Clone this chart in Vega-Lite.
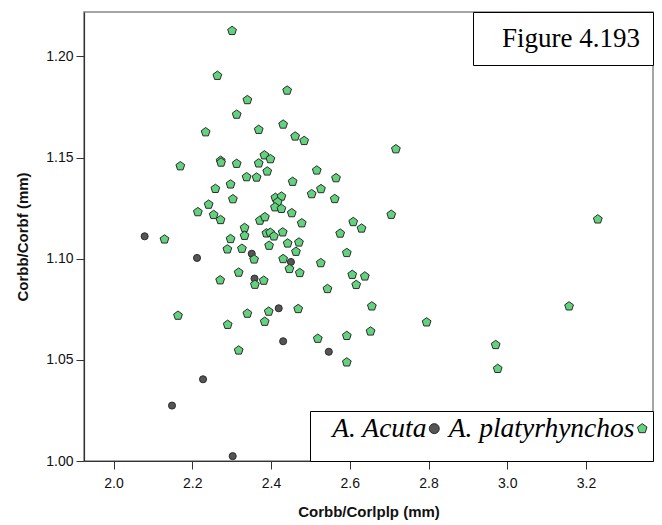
{
  "$schema": "https://vega.github.io/schema/vega-lite/v6.json",
  "width": 569,
  "height": 449,
  "autosize": {"type": "none"},
  "padding": {"left": 84, "top": 12, "right": 9, "bottom": 64},
  "background": "white",
  "config": {
    "view": {"stroke": "#888888", "strokeWidth": 1.5},
    "axis": {
      "grid": false,
      "domainColor": "#333333",
      "domainWidth": 1.2,
      "tickColor": "#333333",
      "tickSize": 8,
      "labelFont": "Liberation Sans",
      "labelFontSize": 14,
      "labelColor": "#111111",
      "titleFont": "Liberation Sans",
      "titleFontSize": 15,
      "titleFontWeight": "bold",
      "titleColor": "#111111"
    }
  },
  "resolve": {"scale": {"size": "independent"}, "legend": {"size": "independent"}},
  "datasets": {
    "points": [
      {"species": "A. Acuta", "x": 2.079, "y": 1.1111},
      {"species": "A. Acuta", "x": 2.212, "y": 1.1004},
      {"species": "A. Acuta", "x": 2.351, "y": 1.1025},
      {"species": "A. Acuta", "x": 2.4505, "y": 1.0984},
      {"species": "A. Acuta", "x": 2.358, "y": 1.0902},
      {"species": "A. Acuta", "x": 2.4195, "y": 1.0755},
      {"species": "A. Acuta", "x": 2.4307, "y": 1.0592},
      {"species": "A. Acuta", "x": 2.5467, "y": 1.054},
      {"species": "A. Acuta", "x": 2.2273, "y": 1.0404},
      {"species": "A. Acuta", "x": 2.1485, "y": 1.0274},
      {"species": "A. Acuta", "x": 2.3026, "y": 1.0024},
      {"species": "A. platyrhynchos", "x": 2.301, "y": 1.2127},
      {"species": "A. platyrhynchos", "x": 2.2637, "y": 1.1905},
      {"species": "A. platyrhynchos", "x": 2.4409, "y": 1.1832},
      {"species": "A. platyrhynchos", "x": 2.3399, "y": 1.1785},
      {"species": "A. platyrhynchos", "x": 2.3127, "y": 1.1713},
      {"species": "A. platyrhynchos", "x": 2.2339, "y": 1.1626},
      {"species": "A. platyrhynchos", "x": 2.3687, "y": 1.1638},
      {"species": "A. platyrhynchos", "x": 2.4307, "y": 1.1664},
      {"species": "A. platyrhynchos", "x": 2.4612, "y": 1.1605},
      {"species": "A. platyrhynchos", "x": 2.4841, "y": 1.1583},
      {"species": "A. platyrhynchos", "x": 2.1696, "y": 1.1458},
      {"species": "A. platyrhynchos", "x": 2.2721, "y": 1.1485},
      {"species": "A. platyrhynchos", "x": 2.2731, "y": 1.1476},
      {"species": "A. platyrhynchos", "x": 2.3127, "y": 1.147},
      {"species": "A. platyrhynchos", "x": 2.3687, "y": 1.1472},
      {"species": "A. platyrhynchos", "x": 2.3832, "y": 1.1512},
      {"species": "A. platyrhynchos", "x": 2.3984, "y": 1.1493},
      {"species": "A. platyrhynchos", "x": 2.3903, "y": 1.1432},
      {"species": "A. platyrhynchos", "x": 2.3379, "y": 1.1404},
      {"species": "A. platyrhynchos", "x": 2.3633, "y": 1.1402},
      {"species": "A. platyrhynchos", "x": 2.5161, "y": 1.1437},
      {"species": "A. platyrhynchos", "x": 2.565, "y": 1.1399},
      {"species": "A. platyrhynchos", "x": 2.4549, "y": 1.1381},
      {"species": "A. platyrhynchos", "x": 2.2972, "y": 1.1368},
      {"species": "A. platyrhynchos", "x": 2.2586, "y": 1.1346},
      {"species": "A. platyrhynchos", "x": 2.3031, "y": 1.1295},
      {"species": "A. platyrhynchos", "x": 2.5032, "y": 1.132},
      {"species": "A. platyrhynchos", "x": 2.5268, "y": 1.1345},
      {"species": "A. platyrhynchos", "x": 2.5617, "y": 1.1296},
      {"species": "A. platyrhynchos", "x": 2.4111, "y": 1.1302},
      {"species": "A. platyrhynchos", "x": 2.4264, "y": 1.1308},
      {"species": "A. platyrhynchos", "x": 2.4167, "y": 1.128},
      {"species": "A. platyrhynchos", "x": 2.4099, "y": 1.1255},
      {"species": "A. platyrhynchos", "x": 2.4264, "y": 1.1247},
      {"species": "A. platyrhynchos", "x": 2.4526, "y": 1.1226},
      {"species": "A. platyrhynchos", "x": 2.2415, "y": 1.1268},
      {"species": "A. platyrhynchos", "x": 2.2141, "y": 1.1231},
      {"species": "A. platyrhynchos", "x": 2.2543, "y": 1.1217},
      {"species": "A. platyrhynchos", "x": 2.2718, "y": 1.1192},
      {"species": "A. platyrhynchos", "x": 2.3717, "y": 1.1189},
      {"species": "A. platyrhynchos", "x": 2.3844, "y": 1.1206},
      {"species": "A. platyrhynchos", "x": 2.478, "y": 1.1176},
      {"species": "A. platyrhynchos", "x": 2.6087, "y": 1.1182},
      {"species": "A. platyrhynchos", "x": 2.6298, "y": 1.115},
      {"species": "A. platyrhynchos", "x": 2.3328, "y": 1.1153},
      {"species": "A. platyrhynchos", "x": 2.4297, "y": 1.1131},
      {"species": "A. platyrhynchos", "x": 2.5756, "y": 1.1125},
      {"species": "A. platyrhynchos", "x": 2.3883, "y": 1.1126},
      {"species": "A. platyrhynchos", "x": 2.3979, "y": 1.1129},
      {"species": "A. platyrhynchos", "x": 2.4073, "y": 1.1111},
      {"species": "A. platyrhynchos", "x": 2.3328, "y": 1.1114},
      {"species": "A. platyrhynchos", "x": 2.2972, "y": 1.1098},
      {"species": "A. platyrhynchos", "x": 2.1294, "y": 1.1096},
      {"species": "A. platyrhynchos", "x": 2.2891, "y": 1.1047},
      {"species": "A. platyrhynchos", "x": 2.326, "y": 1.105},
      {"species": "A. platyrhynchos", "x": 2.4422, "y": 1.1076},
      {"species": "A. platyrhynchos", "x": 2.4709, "y": 1.1081},
      {"species": "A. platyrhynchos", "x": 2.3951, "y": 1.1065},
      {"species": "A. platyrhynchos", "x": 2.4633, "y": 1.1035},
      {"species": "A. platyrhynchos", "x": 2.357, "y": 1.0997},
      {"species": "A. platyrhynchos", "x": 2.4307, "y": 1.0999},
      {"species": "A. platyrhynchos", "x": 2.4467, "y": 1.095},
      {"species": "A. platyrhynchos", "x": 2.4729, "y": 1.093},
      {"species": "A. platyrhynchos", "x": 2.5263, "y": 1.0979},
      {"species": "A. platyrhynchos", "x": 2.5924, "y": 1.1029},
      {"species": "A. platyrhynchos", "x": 2.6062, "y": 1.0921},
      {"species": "A. platyrhynchos", "x": 2.6382, "y": 1.0913},
      {"species": "A. platyrhynchos", "x": 2.6163, "y": 1.0871},
      {"species": "A. platyrhynchos", "x": 2.5433, "y": 1.0851},
      {"species": "A. platyrhynchos", "x": 2.3178, "y": 1.0932},
      {"species": "A. platyrhynchos", "x": 2.2708, "y": 1.0894},
      {"species": "A. platyrhynchos", "x": 2.359, "y": 1.0872},
      {"species": "A. platyrhynchos", "x": 2.3814, "y": 1.0892},
      {"species": "A. platyrhynchos", "x": 2.1637, "y": 1.0719},
      {"species": "A. platyrhynchos", "x": 2.3399, "y": 1.0729},
      {"species": "A. platyrhynchos", "x": 2.3941, "y": 1.0739},
      {"species": "A. platyrhynchos", "x": 2.4689, "y": 1.0752},
      {"species": "A. platyrhynchos", "x": 2.2899, "y": 1.0674},
      {"species": "A. platyrhynchos", "x": 2.3839, "y": 1.0689},
      {"species": "A. platyrhynchos", "x": 2.656, "y": 1.0765},
      {"species": "A. platyrhynchos", "x": 2.6527, "y": 1.0641},
      {"species": "A. platyrhynchos", "x": 2.5187, "y": 1.0605},
      {"species": "A. platyrhynchos", "x": 2.5924, "y": 1.0619},
      {"species": "A. platyrhynchos", "x": 2.5924, "y": 1.0488},
      {"species": "A. platyrhynchos", "x": 2.3178, "y": 1.0547},
      {"species": "A. platyrhynchos", "x": 2.717, "y": 1.1542},
      {"species": "A. platyrhynchos", "x": 2.7053, "y": 1.1218},
      {"species": "A. platyrhynchos", "x": 3.2298, "y": 1.1195},
      {"species": "A. platyrhynchos", "x": 2.7951, "y": 1.0686},
      {"species": "A. platyrhynchos", "x": 2.9705, "y": 1.0574},
      {"species": "A. platyrhynchos", "x": 2.9756, "y": 1.0456},
      {"species": "A. platyrhynchos", "x": 3.1569, "y": 1.0765}
    ],
    "figure": [{"fig": "Figure 4.193"}]
  },
  "layer": [
    {
      "data": {"name": "points"},
      "mark": {"type": "point", "filled": true, "stroke": "#2b2b2b", "strokeWidth": 1, "opacity": 1},
      "encoding": {
        "x": {
          "field": "x", "type": "quantitative",
          "scale": {"domain": [1.925, 3.37], "nice": false, "zero": false},
          "axis": {"title": "Corbb/Corlplp (mm)", "values": [2.0, 2.2, 2.4, 2.6, 2.8, 3.0, 3.2], "format": ".1f", "labelPadding": 7, "titlePadding": 14}
        },
        "y": {
          "field": "y", "type": "quantitative",
          "scale": {"domain": [1.0, 1.222], "nice": false, "zero": false},
          "axis": {"title": "Corbb/Corbf (mm)", "values": [1.0, 1.05, 1.1, 1.15, 1.2], "format": ".2f", "labelPadding": 3, "titlePadding": 15}
        },
        "color": {
          "field": "species", "type": "nominal",
          "scale": {"domain": ["A. Acuta", "A. platyrhynchos"], "range": ["#555555", "#62d27e"]},
          "legend": {
            "title": ["\u00a0", "\u00a0"],
            "titleOrient": "left",
            "titleFont": "Liberation Serif",
            "titleFontSize": 23,
            "titleLineHeight": 34,
            "titlePadding": 107,
            "orient": "bottom-right",
            "offset": 0,
            "direction": "horizontal",
            "strokeColor": "#000000",
            "fillColor": "#ffffff",
            "padding": 3.5,
            "labelFont": "Liberation Serif",
            "labelFontStyle": "italic",
            "labelFontSize": 27.5,
            "labelColor": "#000000",
            "labelAlign": "right",
            "labelOffset": -21.5,
            "labelLimit": 400,
            "columnPadding": 7,
            "symbolStrokeColor": "#2b2b2b",
            "symbolStrokeWidth": 1
          }
        },
        "shape": {
          "field": "species", "type": "nominal",
          "scale": {"domain": ["A. Acuta", "A. platyrhynchos"], "range": ["circle", "M0,-1L0.951,-0.309L0.588,0.809L-0.588,0.809L-0.951,-0.309Z"]}
        },
        "size": {
          "field": "species", "type": "nominal",
          "scale": {"domain": ["A. Acuta", "A. platyrhynchos"], "range": [50, 85]}
        }
      }
    },
    {
      "data": {"name": "figure"},
      "mark": {"type": "point", "filled": true, "opacity": 0},
      "encoding": {
        "size": {
          "field": "fig", "type": "ordinal",
          "scale": {"range": [1]},
          "legend": {
            "title": "\u00a0",
            "titleOrient": "left",
            "titleFont": "Liberation Serif",
            "titleFontSize": 6,
            "titlePadding": 154,
            "orient": "top-right",
            "offset": 0,
            "strokeColor": "#000000",
            "fillColor": "#ffffff",
            "padding": 13,
            "clipHeight": 27,
            "labelFont": "Liberation Serif",
            "labelFontSize": 27,
            "labelColor": "#000000",
            "labelAlign": "right",
            "labelOffset": -16,
            "labelLimit": 400,
            "symbolOpacity": 0,
            "symbolStrokeWidth": 0
          }
        }
      }
    }
  ]
}
